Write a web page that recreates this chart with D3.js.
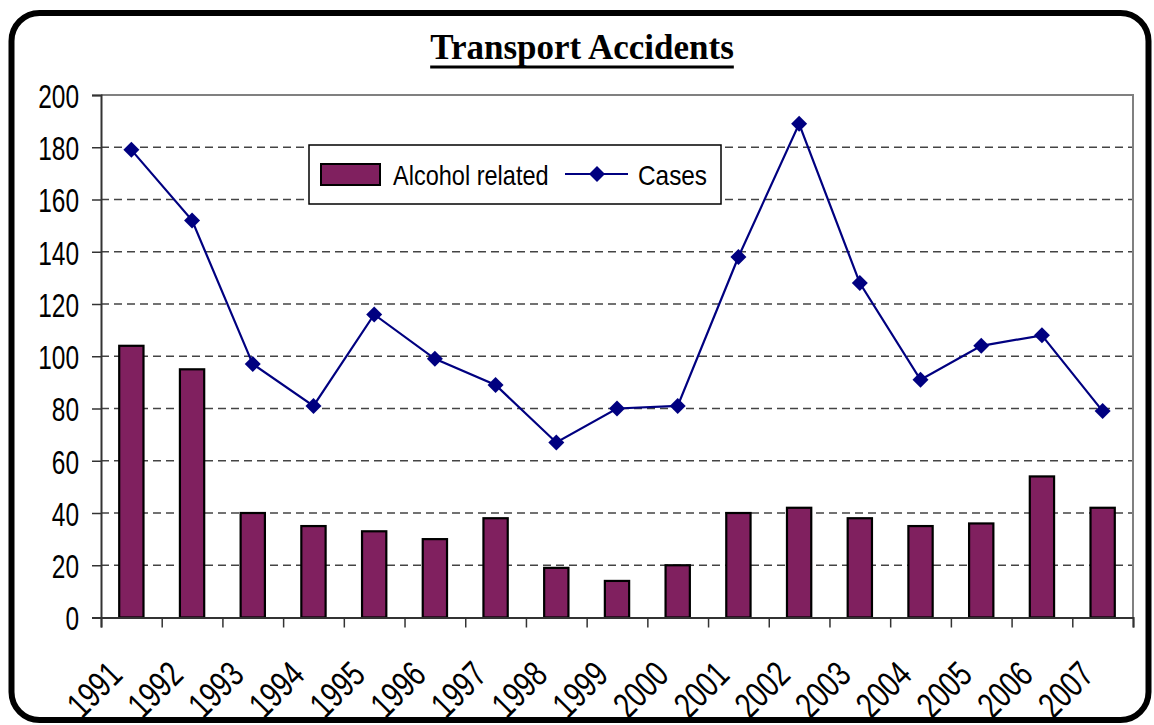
<!DOCTYPE html>
<html>
<head>
<meta charset="utf-8">
<title>Transport Accidents</title>
<style>
  body { margin: 0; background: #fff; }
  text { font-family: "Liberation Sans", Arial, sans-serif; fill: #000; }
  .title { font-family: "Liberation Serif", "Times New Roman", serif; font-weight: bold; font-size: 35px; }
</style>
</head>
<body>
<div id="chart"></div>
<script src="https://cdn.jsdelivr.net/npm/d3@7"></script>
<script>
    // values
    let years = ['1991', '1992', '1993', '1994', '1995', '1996', '1997', '1998', '1999',
                 '2000', '2001', '2002', '2003', '2004', '2005', '2006', '2007'];
    let alcohol = [104, 95, 40, 35, 33, 30, 38, 19, 14, 20, 40, 42, 38, 35, 36, 54, 42];
    let cases = [179, 152, 97, 81, 116, 99, 89, 67, 80, 81, 138, 189, 128, 91, 104, 108, 79];
    let yTicks = [0, 20, 40, 60, 80, 100, 120, 140, 160, 180, 200];
    let seriesNames = ['Alcohol related', 'Cases'];

    let svgWidth = 1154;
    let svgHeight = 725;
    let plot = {left: 101, right: 1133, top: 95, bottom: 617.5};
    let barColor = '#80205f';
    let lineColor = '#000080';

    function translate(x, y) {
      return 'translate(' + x + ', ' + y + ')';
    }

    // squeeze text horizontally, the reference uses a narrow face
    function squeeze(sel, k) {
      sel.each(function() {
        let w = this.getComputedTextLength();
        d3.select(this).attr('textLength', w * k).attr('lengthAdjust', 'spacingAndGlyphs');
      });
    }

    let svg = d3.select('#chart')
      .append('svg')
        .attr('width', svgWidth)
        .attr('height', svgHeight);

    // outer rounded frame
    svg.append('rect')
      .attr('x', 11.5).attr('y', 13)
      .attr('width', 1137).attr('height', 707)
      .attr('rx', 28).attr('ry', 28)
      .style('fill', '#fff')
      .style('stroke', '#000')
      .style('stroke-width', 6);

    // title
    let title = svg.append('text')
      .attr('class', 'title')
      .attr('x', 582).attr('y', 59)
      .style('text-anchor', 'middle')
      .text('Transport Accidents');
    let tb = title.node().getBBox();
    svg.append('rect')
      .attr('x', tb.x).attr('y', 65.5)
      .attr('width', tb.width).attr('height', 3)
      .style('fill', '#000');

    let x = d3.scaleBand()
      .domain(years)
      .range([plot.left, plot.right])
      .paddingInner(0.6)
      .paddingOuter(0.3);
    let xEdge = d3.scaleLinear()
      .domain([0, years.length])
      .range([plot.left, plot.right]);
    let y = d3.scaleLinear()
      .domain([0, 200])
      .range([plot.bottom, plot.top]);

    // gridlines
    svg.append('g')
      .selectAll('line')
      .data(yTicks.filter(d => d > 0 && d < 200))
      .enter()
      .append('line')
        .attr('x1', plot.left).attr('x2', plot.right)
        .attr('y1', d => y(d)).attr('y2', d => y(d))
        .style('stroke', '#444')
        .style('stroke-width', 1.3)
        .style('stroke-dasharray', '8,5');

    // plot border top / right
    svg.append('path')
      .attr('d', 'M' + plot.left + ',' + y(200) + 'H' + plot.right + 'V' + plot.bottom)
      .style('fill', 'none')
      .style('stroke', '#808080')
      .style('stroke-width', 2);

    // bars
    svg.append('g')
      .selectAll('rect')
      .data(years)
      .enter()
      .append('rect')
        .attr('x', d => x(d))
        .attr('width', x.bandwidth())
        .attr('y', (d, i) => y(alcohol[i]))
        .attr('height', (d, i) => y(0) - y(alcohol[i]))
        .style('fill', barColor)
        .style('stroke', '#000')
        .style('stroke-width', 2.2);

    // y axis
    let yAxis = svg.append('g')
      .attr('transform', translate(plot.left, 0))
      .call(d3.axisLeft(y).tickValues(yTicks).tickSize(9).tickPadding(13));
    yAxis.select('.domain').style('stroke', '#333').style('stroke-width', 2);
    yAxis.selectAll('line').style('stroke', '#333').style('stroke-width', 1.5);
    yAxis.selectAll('text')
      .style('font-size', '34px')
      .style('font-family', '"Liberation Sans", Arial, sans-serif')
      .attr('dy', '0.36em')
      .call(squeeze, 0.72);

    // x axis: ticks on category edges
    let xAxis = svg.append('g')
      .attr('transform', translate(0, plot.bottom))
      .call(d3.axisBottom(xEdge).tickValues(d3.range(years.length + 1)).tickSize(10).tickFormat(''));
    xAxis.select('.domain').style('stroke', '#333').style('stroke-width', 2);
    xAxis.selectAll('line').style('stroke', '#333').style('stroke-width', 1.5);

    // x labels, rotated
    svg.append('g')
      .selectAll('text')
      .data(years)
      .enter()
      .append('text')
        .attr('transform', d => translate(x(d) + x.bandwidth() / 2 - 7, 677) + ' rotate(-45)')
        .style('text-anchor', 'end')
        .style('font-size', '36px')
        .text(d => d)
        .call(squeeze, 0.75);

    // cases line
    let line = d3.line()
      .x((d, i) => x(years[i]) + x.bandwidth() / 2)
      .y(d => y(d));
    svg.append('path')
      .datum(cases)
      .attr('d', line)
      .style('fill', 'none')
      .style('stroke', lineColor)
      .style('stroke-width', 2.2);

    let diamond = 'M0,-8L8,0L0,8L-8,0Z';
    svg.append('g')
      .selectAll('path')
      .data(cases)
      .enter()
      .append('path')
        .attr('d', diamond)
        .attr('transform', (d, i) => translate(x(years[i]) + x.bandwidth() / 2, y(d)))
        .style('fill', lineColor);

    // legend
    let legend = svg.append('g').attr('transform', translate(309, 145));
    legend.append('rect')
      .attr('width', 412).attr('height', 59)
      .style('fill', '#fff')
      .style('stroke', '#000')
      .style('stroke-width', 1.5);
    legend.append('rect')
      .attr('x', 12).attr('y', 19)
      .attr('width', 59).attr('height', 21)
      .style('fill', barColor)
      .style('stroke', '#000')
      .style('stroke-width', 2);
    legend.append('text')
      .attr('x', 84).attr('y', 40)
      .style('font-size', '28px')
      .text(seriesNames[0])
      .call(squeeze, 0.84);
    legend.append('line')
      .attr('x1', 256).attr('x2', 319)
      .attr('y1', 29).attr('y2', 29)
      .style('stroke', lineColor)
      .style('stroke-width', 2.2);
    legend.append('path')
      .attr('d', diamond)
      .attr('transform', translate(288, 29))
      .style('fill', lineColor);
    legend.append('text')
      .attr('x', 329).attr('y', 40)
      .style('font-size', '28px')
      .text(seriesNames[1])
      .call(squeeze, 0.87);
</script>
</body>
</html>
